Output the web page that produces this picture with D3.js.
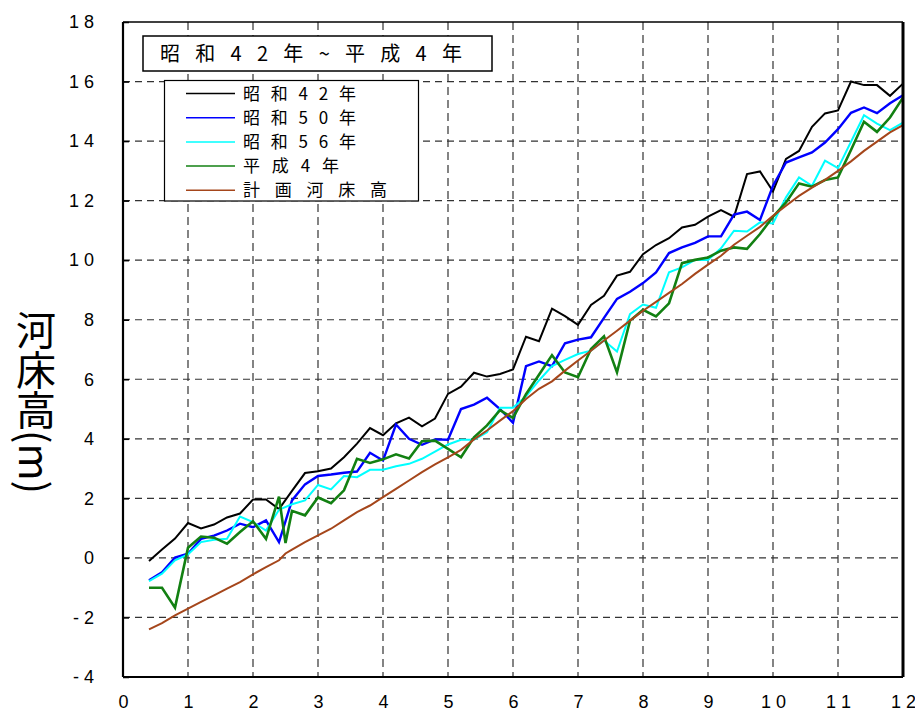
<!DOCTYPE html>
<html>
<head>
<meta charset="utf-8">
<style>
  body { margin: 0; background: #fff; }
  svg { display: block; }
  .tick text { font-family: "Liberation Sans", Arial, sans-serif; font-size: 18px; fill: #000; }
  .jp { font-family: "Noto Sans CJK JP", sans-serif; fill: #000; }
</style>
</head>
<body>
<script src="https://cdn.jsdelivr.net/npm/d3@7/dist/d3.min.js"></script>
<script>

// distance from river mouth (km); 2.5 only surveyed in some years
var distances = [0.4,0.6,0.8,1.0,1.2,1.4,1.6,1.8,2.0,2.2,2.4,2.5,
  2.6,2.8,3.0,3.2,3.4,3.6,3.8,4.0,4.2,4.4,
  4.6,4.8,5.0,5.2,5.4,5.6,5.8,6.0,6.2,6.4,
  6.6,6.8,7.0,7.2,7.4,7.6,7.8,8.0,8.2,8.4,
  8.6,8.8,9.0,9.2,9.4,9.6,9.8,10.0,10.2,10.4,
  10.6,10.8,11.0,11.2,11.4,11.6,11.8,12.0];

var s42 = [-0.1,0.28,0.65,1.17,0.99,1.12,1.36,1.49,1.96,1.96,1.64,null,
  2.25,2.85,2.91,3.0,3.38,3.84,4.36,4.12,4.52,4.71,
  4.42,4.68,5.51,5.75,6.22,6.09,6.18,6.33,7.43,7.28,
  8.37,8.12,7.83,8.5,8.8,9.48,9.61,10.2,10.51,10.74,
  11.1,11.19,11.46,11.68,11.46,12.89,12.98,12.31,13.4,13.67,
  14.48,14.93,15.03,16.0,15.88,15.88,15.52,15.93];

var s50 = [-0.75,-0.48,0.01,0.14,0.64,0.75,0.92,1.15,1.03,1.26,0.53,null,
  1.93,2.47,2.75,2.8,2.86,2.9,3.53,3.27,4.48,4.0,
  3.8,3.98,3.97,5.0,5.15,5.38,5.0,4.54,6.44,6.6,
  6.44,7.21,7.33,7.41,8.06,8.7,8.94,9.23,9.59,10.24,
  10.43,10.58,10.8,10.8,11.53,11.63,11.35,12.5,13.28,13.45,
  13.62,13.95,14.4,14.95,15.13,14.94,15.27,15.54];

var s56 = [-0.78,-0.53,-0.08,0.12,0.53,0.61,0.64,1.39,1.2,0.92,1.62,null,
  1.8,1.93,2.45,2.3,2.75,2.71,2.96,2.96,3.08,3.16,
  3.33,3.57,3.81,3.97,3.97,4.22,5.04,5.04,5.43,5.96,
  6.44,6.65,6.85,6.96,7.3,6.93,8.19,8.51,8.4,9.59,
  9.76,10.01,10.01,10.4,10.99,10.96,11.27,11.23,12.11,12.78,
  12.5,13.34,13.09,13.98,14.87,14.59,14.37,14.62];

var h4 = [-1.0,-1.0,-1.67,0.34,0.72,0.68,0.48,0.87,1.23,0.64,2.06,0.5,
  1.58,1.43,2.03,1.84,2.27,3.33,3.19,3.31,3.48,3.34,
  3.92,3.94,3.66,3.38,4.05,4.45,4.96,4.7,5.5,6.15,
  6.81,6.23,6.07,7.02,7.44,6.23,7.97,8.33,8.11,8.55,
  9.9,10.01,10.09,10.32,10.43,10.38,10.88,11.46,11.94,12.58,
  12.47,12.69,12.78,13.7,14.65,14.31,14.79,15.46];

var plan = [-2.4,-2.19,-1.93,-1.7,-1.48,-1.26,-1.03,-0.81,-0.55,-0.31,-0.08,0.15,
  0.28,0.53,0.76,0.98,1.26,1.54,1.76,2.04,2.32,2.6,
  2.88,3.14,3.38,3.63,3.98,4.28,4.61,4.93,5.34,5.68,
  5.93,6.29,6.63,6.96,7.3,7.63,7.97,8.3,8.6,8.9,
  9.2,9.54,9.85,10.15,10.52,10.82,11.12,11.49,11.83,12.16,
  12.44,12.7,13.0,13.32,13.67,13.98,14.29,14.54];

var seriesNames = ["昭 和 4 2 年", "昭 和 5 0 年", "昭 和 5 6 年", "平 成 4 年", "計 画 河 床 高"];
var seriesValues = [s42, s50, s56, h4, plan];
var seriesColors = ["#000000", "#0000ff", "#00ffff", "#128012", "#a5461b"];
var seriesWidths = [2, 2.4, 2, 2.6, 2];

var title = "昭 和 4 2 年 ~ 平 成 4 年";
var yLabel = "河床高(m)";
var xTicks = [0,1,2,3,4,5,6,7,8,9,10,11,12];
var yTicks = [-4,-2,0,2,4,6,8,10,12,14,16,18];

var W = 915, H = 712;
var plot = {l: 123, r: 903, t: 22, b: 677};

var x = d3.scaleLinear().domain([0, 12]).range([plot.l, plot.r]);
var y = d3.scaleLinear().domain([-4, 18]).range([plot.b, plot.t]);

var svg = d3.select("body").append("svg")
    .attr("width", W)
    .attr("height", H);

// spaced digits like the original ("1 8", "- 4")
var spaced = d => String(d).split("").join(" ");

// dashed grid
svg.append("g").selectAll("line")
    .data(yTicks.filter(d => d > -4 && d < 18))
  .enter().append("line")
    .attr("x1", plot.l).attr("x2", plot.r)
    .attr("y1", d => y(d)).attr("y2", d => y(d))
    .attr("stroke", "#333").attr("stroke-width", 1.2)
    .attr("stroke-dasharray", "7,5");
svg.append("g").selectAll("line")
    .data(xTicks.filter(d => d > 0 && d < 12))
  .enter().append("line")
    .attr("x1", d => x(d)).attr("x2", d => x(d))
    .attr("y1", plot.t).attr("y2", plot.b)
    .attr("stroke", "#333").attr("stroke-width", 1.2)
    .attr("stroke-dasharray", "8,5");

// axes (labels + inner ticks)
var yAxis = svg.append("g")
    .attr("transform", `translate(${plot.l},0)`)
    .call(d3.axisLeft(y).tickValues(yTicks).tickFormat(spaced).tickSize(-6).tickPadding(29));
yAxis.select(".domain").remove();
yAxis.selectAll(".tick line").attr("stroke", "#000").attr("stroke-width", 1.5);

var xAxis = svg.append("g")
    .attr("transform", `translate(0,${plot.b})`)
    .call(d3.axisBottom(x).tickValues(xTicks).tickFormat(spaced).tickSize(0).tickPadding(18));
xAxis.select(".domain").remove();

// series lines
var line = d3.line()
    .x(d => x(d[0]))
    .y(d => y(d[1]));

seriesValues.forEach(function(vals, i) {
  var pts = distances.map((d, j) => [d, vals[j]]).filter(p => p[1] !== null);
  svg.append("path")
      .datum(pts)
      .attr("fill", "none")
      .attr("stroke", seriesColors[i])
      .attr("stroke-width", seriesWidths[i])
      .attr("stroke-linejoin", "miter")
      .attr("d", line);
});

// frame
svg.append("line").attr("x1", plot.l).attr("x2", plot.r).attr("y1", plot.t).attr("y2", plot.t)
    .attr("stroke", "#000").attr("stroke-width", 1.6);
svg.append("line").attr("x1", plot.l).attr("x2", plot.r).attr("y1", plot.b).attr("y2", plot.b)
    .attr("stroke", "#000").attr("stroke-width", 2);
svg.append("line").attr("x1", plot.l).attr("x2", plot.l).attr("y1", plot.t).attr("y2", plot.b)
    .attr("stroke", "#000").attr("stroke-width", 2.2);
svg.append("line").attr("x1", plot.r).attr("x2", plot.r).attr("y1", plot.t).attr("y2", plot.b)
    .attr("stroke", "#000").attr("stroke-width", 3);

// title box
svg.append("rect")
    .attr("x", 143).attr("y", 36).attr("width", 349).attr("height", 35)
    .attr("fill", "#fff").attr("stroke", "#000").attr("stroke-width", 1.5);
svg.append("text")
    .attr("class", "jp")
    .attr("x", 160).attr("y", 61)
    .attr("font-size", 20)
    .attr("textLength", 302)
    .attr("lengthAdjust", "spacing")
    .text(title);

// legend
var lg = svg.append("g");
lg.append("rect")
    .attr("x", 164.5).attr("y", 80.5).attr("width", 254).attr("height", 120.5)
    .attr("fill", "#fff").attr("stroke", "#000").attr("stroke-width", 1.2);
var legendW = [113, 113, 113, 96, 144];
seriesNames.forEach(function(name, i) {
  var ly = 93.5 + i * 24.2;
  lg.append("line")
      .attr("x1", 186).attr("x2", 235).attr("y1", ly).attr("y2", ly)
      .attr("stroke", seriesColors[i]).attr("stroke-width", 1.5);
  lg.append("text")
      .attr("class", "jp")
      .attr("x", 243).attr("y", ly + 6)
      .attr("font-size", 17)
      .attr("textLength", legendW[i])
      .attr("lengthAdjust", "spacing")
      .text(name);
});

// vertical y label
svg.append("text")
    .attr("class", "jp")
    .attr("x", 36).attr("y", 310)
    .attr("font-size", 40)
    .style("writing-mode", "vertical-rl")
    .text(yLabel);

</script>
</body>
</html>
